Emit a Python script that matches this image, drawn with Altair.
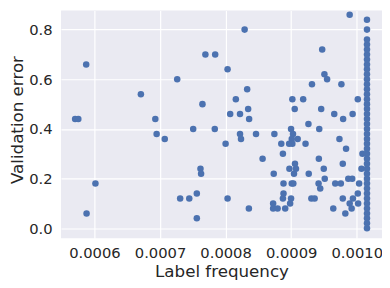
import altair as alt
import pandas as pd

# scattered points (label frequency, validation error)
freq = [
    5.874e-4, 5.705e-4, 5.754e-4, 6.708e-4, 6.928e-4, 6.948e-4, 7.072e-4, 6.015e-4, 5.880e-4,
    8.290e-4, 7.692e-4, 7.841e-4, 8.030e-4, 7.262e-4, 8.329e-4, 8.156e-4, 7.647e-4, 8.344e-4,
    8.070e-4, 8.220e-4, 8.359e-4, 7.506e-4, 7.835e-4, 8.220e-4, 8.235e-4, 8.464e-4, 8.000e-4,
    8.564e-4, 7.617e-4, 7.626e-4, 7.307e-4, 7.446e-4, 7.561e-4, 8.030e-4, 8.355e-4, 7.561e-4,
    9.473e-4, 9.507e-4, 9.548e-4, 9.317e-4, 9.018e-4, 9.183e-4, 9.054e-4, 9.458e-4, 9.657e-4,
    9.263e-4, 9.428e-4, 8.998e-4, 8.744e-4, 9.028e-4, 9.099e-4, 9.009e-4, 8.969e-4, 9.018e-4,
    8.849e-4, 9.219e-4, 8.874e-4, 9.422e-4, 9.058e-4, 8.973e-4, 9.073e-4, 9.497e-4, 9.043e-4,
    8.734e-4, 9.268e-4, 9.512e-4, 8.883e-4, 9.009e-4, 9.033e-4, 9.418e-4, 9.443e-4, 8.883e-4,
    8.874e-4, 8.998e-4, 9.308e-4, 9.358e-4, 8.725e-4, 8.984e-4, 8.725e-4, 8.793e-4, 8.909e-4,
    9.642e-4, 9.892e-4, 9.766e-4, 10.016e-4, 9.792e-4, 9.937e-4, 9.736e-4, 9.837e-4, 9.787e-4,
    10.087e-4, 10.072e-4, 9.672e-4, 9.757e-4, 9.871e-4, 9.931e-4, 10.036e-4, 10.016e-4, 9.942e-4,
    9.892e-4, 10.021e-4, 9.922e-4, 9.826e-4, 9.787e-4,
]
err = [
    0.66, 0.44, 0.44, 0.54, 0.44, 0.38, 0.36, 0.18, 0.06,
    0.80, 0.70, 0.70, 0.64, 0.60, 0.56, 0.52, 0.50, 0.48,
    0.46, 0.46, 0.44, 0.40, 0.40, 0.38, 0.36, 0.38, 0.34,
    0.28, 0.24, 0.22, 0.12, 0.12, 0.14, 0.12, 0.08, 0.04,
    0.72, 0.62, 0.60, 0.58, 0.52, 0.52, 0.48, 0.48, 0.46,
    0.42, 0.40, 0.40, 0.38, 0.38, 0.36, 0.36, 0.34, 0.34,
    0.34, 0.34, 0.30, 0.28, 0.26, 0.24, 0.24, 0.24, 0.22,
    0.22, 0.22, 0.20, 0.18, 0.18, 0.18, 0.18, 0.16, 0.14,
    0.12, 0.12, 0.12, 0.12, 0.10, 0.10, 0.08, 0.08, 0.08,
    0.08, 0.86, 0.58, 0.52, 0.44, 0.46, 0.36, 0.32, 0.26,
    0.30, 0.24, 0.18, 0.18, 0.20, 0.20, 0.18, 0.14, 0.12,
    0.10, 0.10, 0.08, 0.06, 0.12,
]

# the dense column at the most frequent label
col_freq = 1.0156e-3
col_err = [
    0.00, 0.02, 0.04, 0.06, 0.08, 0.10, 0.12, 0.14, 0.16, 0.18,
    0.20, 0.22, 0.24, 0.26, 0.28, 0.30, 0.32, 0.34, 0.36, 0.38,
    0.40, 0.42, 0.44, 0.46, 0.48, 0.50, 0.52, 0.54, 0.56, 0.58,
    0.60, 0.62, 0.64, 0.66, 0.68, 0.70, 0.72, 0.74, 0.76, 0.80, 0.84,
]

x_ticks = [0.0006, 0.0007, 0.0008, 0.0009, 0.0010]
y_ticks = [0.0, 0.2, 0.4, 0.6, 0.8]

df = pd.DataFrame({
    "freq": freq + [col_freq] * len(col_err),
    "err": err + col_err,
})

txt = "#262626"
font = "DejaVu Sans"

chart = alt.Chart(df).mark_circle(size=44, color="#4C72B0", opacity=1).encode(
    x=alt.X(
        "freq:Q",
        scale=alt.Scale(domain=[0.000549, 0.0010385], nice=False, zero=False),
        axis=alt.Axis(
            title="Label frequency", values=x_ticks, format=".4f",
            labelPadding=8, titleY=39, titleBaseline="alphabetic",
            labelOverlap=False,
        ),
    ),
    y=alt.Y(
        "err:Q",
        scale=alt.Scale(domain=[-0.0403, 0.8767], nice=False, zero=False),
        axis=alt.Axis(
            title="Validation error", values=y_ticks, format=".1f",
            labelPadding=9, titleX=-39, titleY=111, titleAngle=270,
            titleBaseline="alphabetic", titleAlign="center",
        ),
    ),
).properties(
    width=327,
    height=232,
    padding={"left": 54, "top": 0, "right": 0, "bottom": 48},
    autosize=alt.AutoSizeParams(type="none"),
).configure_view(
    fill="#EAEAF2", strokeWidth=0,
).configure_axis(
    domain=False, ticks=False, grid=True, gridColor="white", gridWidth=1.2,
    labelFont=font, labelFontSize=15, labelColor=txt,
    titleFont=font, titleFontSize=17, titleFontWeight="normal", titleColor=txt,
)

chart.save("out.html", embed_options={"renderer": "svg", "actions": False})
